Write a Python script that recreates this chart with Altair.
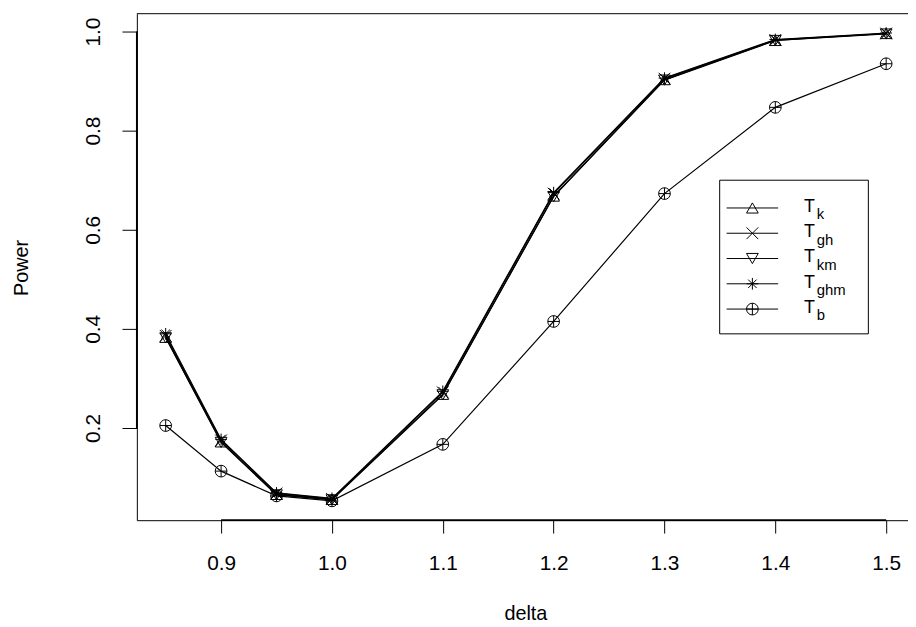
import altair as alt
import pandas as pd

# ---- data ----
delta = [0.85, 0.9, 0.95, 1.0, 1.1, 1.2, 1.3, 1.4, 1.5]
t_k = [0.383, 0.172, 0.066, 0.056, 0.268, 0.668, 0.903, 0.982, 0.996]
t_gh = [0.386, 0.175, 0.068, 0.057, 0.272, 0.673, 0.905, 0.983, 0.996]
t_km = [0.382, 0.171, 0.065, 0.055, 0.267, 0.667, 0.902, 0.982, 0.995]
t_ghm = [0.390, 0.177, 0.069, 0.058, 0.274, 0.675, 0.906, 0.984, 0.997]
t_b = [0.205, 0.113, 0.063, 0.053, 0.167, 0.415, 0.673, 0.847, 0.935]

series_names = ["Tk", "Tgh", "Tkm", "Tghm", "Tb"]
legend_subs = ["k", "gh", "km", "ghm", "b"]
x_ticks = [0.9, 1.0, 1.1, 1.2, 1.3, 1.4, 1.5]
y_ticks = [0.2, 0.4, 0.6, 0.8, 1.0]

rows = []
for name, vals in zip(series_names, [t_k, t_gh, t_km, t_ghm, t_b]):
    for d, v in zip(delta, vals):
        rows.append({"delta": d, "power": v, "series": name})
df = pd.DataFrame(rows)

# ---- styling / layout ----
FONT = "Liberation Sans"
W, H = 778, 511
shape_range = [
    "triangle-up",
    "M-1,-1L1,1M-1,1L1,-1",
    "triangle-down",
    "M-1,0L1,0M0,-1L0,1M-0.72,-0.72L0.72,0.72M-0.72,0.72L0.72,-0.72",
    "M-1,0A1,1,0,1,1,1,0A1,1,0,1,1,-1,0ZM-1,0L1,0M0,-1L0,1",
]

xs = alt.Scale(domain=[0.824, 1.5197], nice=False, zero=False)
ys = alt.Scale(domain=[0.014, 1.036], nice=False, zero=False)

x_axis = alt.Axis(
    values=x_ticks, format=".1f", title="delta", grid=False,
    domainColor="black", tickColor="black", tickSize=13, tickWidth=1,
    labelFont=FONT, labelFontSize=21, labelColor="black",
    labelBaseline="alphabetic", labelPadding=37, labelFlush=False, labelOverlap=False,
    titleFont=FONT, titleFontSize=20, titleFontWeight="normal", titleColor="black",
    titleX=392, titleY=100, titleBaseline="alphabetic", titleAlign="center",
)
y_axis = alt.Axis(
    values=y_ticks, format=".1f", title="Power", grid=False,
    domainColor="black", tickColor="black", tickSize=15, tickWidth=1,
    labelFont=FONT, labelFontSize=21, labelColor="black", labelAngle=270,
    labelAlign="center", labelBaseline="alphabetic", labelPadding=23,
    labelFlush=False, labelOverlap=False,
    titleFont=FONT, titleFontSize=20, titleFontWeight="normal", titleColor="black",
    titleAngle=270, titleX=-116, titleY=256, titleBaseline="middle", titleAlign="center",
)

base = alt.Chart(df)
lines = base.mark_line(color="black", strokeWidth=1.2).encode(
    x=alt.X("delta:Q", scale=xs, axis=x_axis),
    y=alt.Y("power:Q", scale=ys, axis=y_axis),
    detail="series:N",
)
points = base.mark_point(filled=False, color="black", strokeWidth=1, size=140, opacity=1).encode(
    x="delta:Q",
    y="power:Q",
    shape=alt.Shape("series:N", scale=alt.Scale(domain=series_names, range=shape_range), legend=None),
)

one = pd.DataFrame({"a": [0]})
top_rule = alt.Chart(one).mark_rule(color="black", strokeWidth=1).encode(
    y=alt.value(0), x=alt.value(0), x2=alt.value(W)
)
# R draws the axis line over the box between first and last tick
x_axis_line = alt.Chart(one).mark_rule(color="black", strokeWidth=1.8).encode(
    x=alt.datum(x_ticks[0]), x2=alt.datum(x_ticks[-1]), y=alt.value(H)
)
y_axis_line = alt.Chart(one).mark_rule(color="black", strokeWidth=1.8).encode(
    y=alt.datum(y_ticks[0]), y2=alt.datum(y_ticks[-1]), x=alt.value(0)
)

# ---- manual legend (subscripted labels) ----
LX0, LX1, LY0, LY1 = 588, 738, 168, 323
legend_layers = [
    alt.Chart(one).mark_rect(fill="white", stroke="black", strokeWidth=1).encode(
        x=alt.value(LX0), x2=alt.value(LX1), y=alt.value(LY0), y2=alt.value(LY1)
    )
]
for i, (shape, sub) in enumerate(zip(shape_range, legend_subs)):
    yy = 196 + 25.5 * i
    legend_layers.append(
        alt.Chart(one).mark_rule(color="black", strokeWidth=1).encode(
            x=alt.value(595), x2=alt.value(647), y=alt.value(yy)
        )
    )
    legend_layers.append(
        alt.Chart(one).mark_point(shape=shape, filled=False, color="black", strokeWidth=1,
                                  size=140, opacity=1).encode(
            x=alt.value(621), y=alt.value(yy)
        )
    )
    legend_layers.append(
        alt.Chart(one).mark_text(text="T", font=FONT, fontSize=18, align="left",
                                 baseline="alphabetic", color="black").encode(
            x=alt.value(673), y=alt.value(yy + 4)
        )
    )
    legend_layers.append(
        alt.Chart(one).mark_text(text=sub, font=FONT, fontSize=15, align="left",
                                 baseline="alphabetic", color="black").encode(
            x=alt.value(686), y=alt.value(yy + 11.5)
        )
    )

chart = alt.layer(top_rule, x_axis_line, y_axis_line, lines, points, *legend_layers).properties(
    width=W,
    height=H,
    autosize=alt.AutoSizeParams(type="none"),
    padding={"left": 130, "top": 3, "right": 0, "bottom": 104},
    background="white",
).configure_view(stroke=None)

chart.save("out.html", embed_options={"renderer": "svg", "actions": False})
